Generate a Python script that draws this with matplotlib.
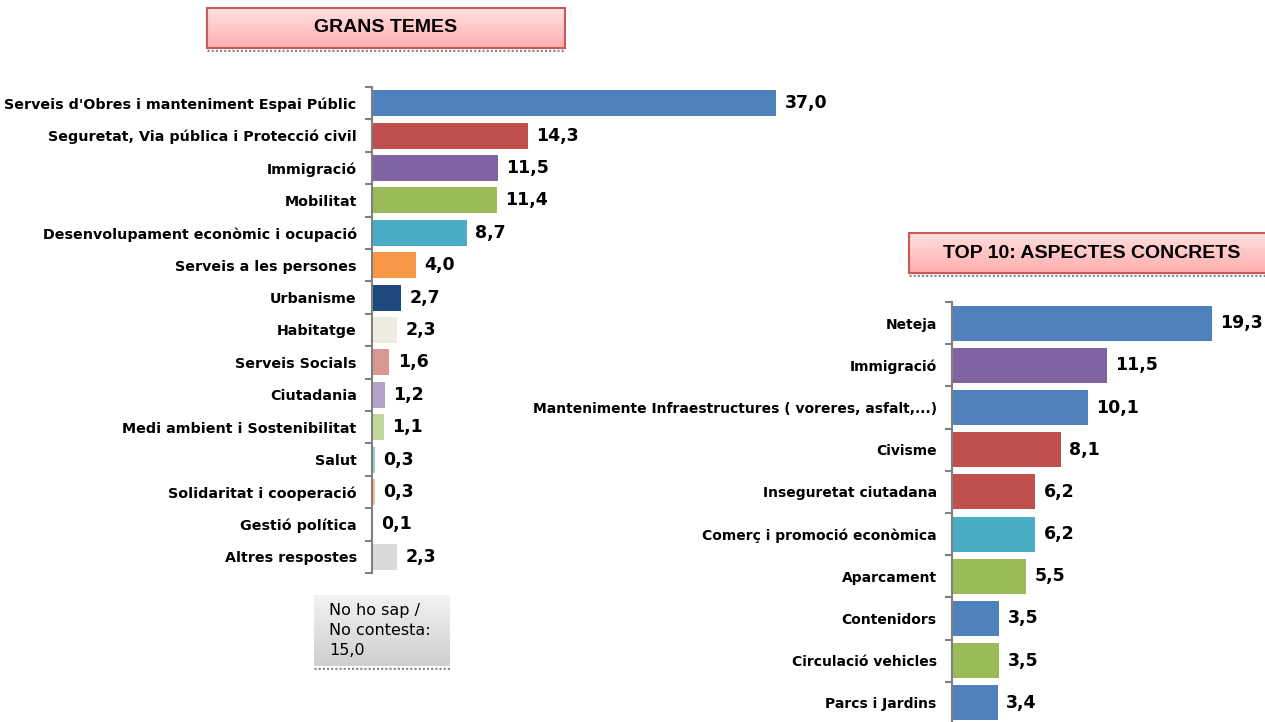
import numpy as np
import matplotlib
matplotlib.use("Agg")
import matplotlib.pyplot as plt

# left chart data: grans temes
temes = ["Serveis d'Obres i manteniment Espai Públic",
         "Seguretat, Via pública i Protecció civil",
         "Immigració",
         "Mobilitat",
         "Desenvolupament econòmic i ocupació",
         "Serveis a les persones",
         "Urbanisme",
         "Habitatge",
         "Serveis Socials",
         "Ciutadania",
         "Medi ambient i Sostenibilitat",
         "Salut",
         "Solidaritat i cooperació",
         "Gestió política",
         "Altres respostes"]
temes_val = [37.0, 14.3, 11.5, 11.4, 8.7, 4.0, 2.7, 2.3, 1.6, 1.2, 1.1, 0.3, 0.3, 0.1, 2.3]
temes_col = ["#4F81BD", "#C0504D", "#8064A2", "#9BBB59", "#4BACC6", "#F79646",
             "#1F497D", "#EEECE1", "#D99694", "#B3A2C7", "#C3D69B", "#93CDDD",
             "#FAC090", "#31859C", "#D9D9D9"]

# right chart data: top 10
top = ["Neteja",
       "Immigració",
       "Mantenimente Infraestructures ( voreres, asfalt,...)",
       "Civisme",
       "Inseguretat ciutadana",
       "Comerç i promoció econòmica",
       "Aparcament",
       "Contenidors",
       "Circulació vehicles",
       "Parcs i Jardins"]
top_val = [19.3, 11.5, 10.1, 8.1, 6.2, 6.2, 5.5, 3.5, 3.5, 3.4]
top_col = ["#4F81BD", "#8064A2", "#4F81BD", "#C0504D", "#C0504D", "#4BACC6",
           "#9BBB59", "#4F81BD", "#9BBB59", "#4F81BD"]

nsnc = 15.0

W, H = 1265, 722
fig = plt.figure(figsize=(W/100, H/100), dpi=100)


def px(x0, y0, x1, y1):
    return [x0/W, 1-y1/H, (x1-x0)/W, (y1-y0)/H]


def fmt(v):
    return ("%.1f" % v).replace(".", ",")


def barchart(ax, cats, vals, cols, xmax, height, lab_size, val_size, gap):
    y = np.arange(len(cats))
    ax.barh(y, vals, color=cols, height=height)
    ax.set_xlim(0, xmax)
    ax.set_ylim(len(cats)-0.5, -0.5)
    for s in ["top", "right", "bottom"]:
        ax.spines[s].set_visible(False)
    ax.spines["left"].set_color("#808080")
    ax.spines["left"].set_linewidth(1.5)
    ax.set_xticks([])
    ax.set_yticks(y)
    ax.set_yticklabels(cats, fontsize=lab_size, fontweight="bold")
    ax.tick_params(axis="y", which="major", length=0, pad=11)
    ax.set_yticks(np.arange(len(cats)+1)-0.5, minor=True)
    ax.tick_params(axis="y", which="minor", length=5, width=1.5, color="#808080")
    for yi, v in zip(y, vals):
        ax.annotate(fmt(v), (v, yi), xytext=(gap, 0), textcoords="offset points",
                    va="center", ha="left", fontsize=val_size, fontweight="bold")


ax1 = fig.add_axes(px(372, 87, 809, 573))
barchart(ax1, temes, temes_val, temes_col, 40, 0.8, 10.3, 12.5, 6)

ax2 = fig.add_axes(px(952, 302, 1248, 724))
barchart(ax2, top, top_val, top_col, 22, 0.83, 10, 12.5, 6)


def box(x0, y0, x1, y1, c_top, c_bot, edge, text, size, weight, ha="center"):
    bx = fig.add_axes(px(x0, y0, x1, y1))
    a = np.array(matplotlib.colors.to_rgb(c_top))
    b = np.array(matplotlib.colors.to_rgb(c_bot))
    t = np.linspace(0, 1, 50)[:, None, None]
    grad = a[None, None, :] * (1-t) + b[None, None, :] * t
    bx.imshow(grad, aspect="auto", extent=[0, 1, 0, 1], origin="upper")
    bx.set_xlim(0, 1)
    bx.set_ylim(0, 1)
    bx.set_xticks([])
    bx.set_yticks([])
    for s in bx.spines.values():
        if edge is None:
            s.set_visible(False)
        else:
            s.set_color(edge)
            s.set_linewidth(1.5)
    if ha == "center":
        bx.text(0.5, 0.5, text, ha="center", va="center", fontsize=size,
                fontweight=weight, family="Liberation Sans")
    else:
        bx.text(0.11, 0.5, text, ha="left", va="center", fontsize=size,
                fontweight=weight, linespacing=1.4)
    # dotted shadow under the box
    sh = fig.add_axes(px(x0, y1+1, x1, y1+4))
    sh.axis("off")
    sh.set_xlim(0, 1)
    sh.set_ylim(0, 1)
    sh.plot([0, 1], [0.5, 0.5], color="#888888", lw=2.5, ls=(0, (0.6, 0.6)))


box(207, 8, 565, 48, "#FFE0E0", "#FFAEAE", "#C85A5A", "GRANS TEMES", 14, "bold")
box(909, 233, 1275, 273, "#FFE0E0", "#FFAEAE", "#C85A5A", "TOP 10: ASPECTES CONCRETS", 14, "bold")
box(314, 595, 450, 666, "#F2F2F2", "#CFCFCF", None,
    "No ho sap /\nNo contesta:\n" + fmt(nsnc), 11.5, "normal", ha="left")

fig.savefig("out.png", dpi=100)
